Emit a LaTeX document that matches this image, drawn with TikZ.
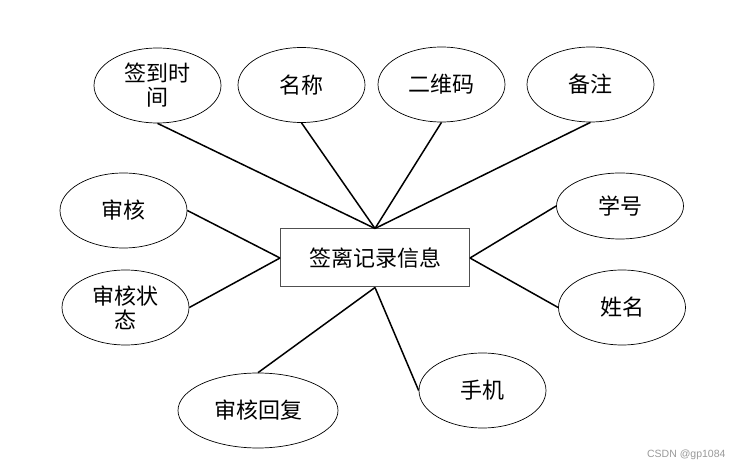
\documentclass[tikz,border=0pt]{standalone}
\usepackage{fontspec}
\newfontfamily\cjk{Noto Sans CJK SC}
\newfontfamily\wmfont{Liberation Sans}
\usepackage{tikz}
\usetikzlibrary{shapes.geometric}
\definecolor{ink}{HTML}{000000}
\definecolor{frame}{HTML}{505050}
\definecolor{muted}{HTML}{9A9A9A}

\begin{document}
\begin{tikzpicture}[x=1pt, y=-1pt,
  font=\cjk\fontsize{22}{24}\selectfont,
  attr/.style={ellipse, draw=ink, line width=0.7pt, inner sep=0pt,
    minimum width=127pt, minimum height=75pt, align=center},
  entity/.style={draw=frame, line width=1pt, inner sep=0pt,
    minimum width=189pt, minimum height=58pt},
  link/.style={draw=ink, line width=1.5pt},
]
  \useasboundingbox[fill=white] (0,0) rectangle (734,470);
  % entity
  \node[entity] (rec) at (375,258) {签离记录信息};
  % attributes
  \node[attr] (time) at (157.5,85.5) {签到时\\间};
  \node[attr] (title) at (301.5,85) {名称};
  \node[attr] (qr) at (441.5,84.5) {二维码};
  \node[attr] (note) at (590.5,84.5) {备注};
  \node[attr] (audit) at (123.5,210.5) {审核};
  \node[attr] (state) at (125.5,307.5) {审核状\\态};
  \node[attr, minimum height=66pt] (sid) at (620,206) {学号};
  \node[attr] (sname) at (622,307.5) {姓名};
  \node[attr, minimum width=160pt] (reply) at (258,410.5) {审核回复};
  \node[attr] (phone) at (482.5,390.5) {手机};
  \draw[link] (rec.north) -- (time.south);
  \draw[link] (rec.north) -- (title.south);
  \draw[link] (rec.north) -- (qr.south);
  \draw[link] (rec.north) -- (note.south);
  \draw[link] (rec.west) -- (audit.east);
  \draw[link] (rec.west) -- (state.east);
  \draw[link] (rec.east) -- (sid.west);
  \draw[link] (rec.east) -- (sname.west);
  \draw[link] (rec.south) -- (reply.north);
  \draw[link] (rec.south) -- (phone.west);
  % watermark
  \node[font=\wmfont\fontsize{10.5}{12}\selectfont, text=muted, anchor=east]
    (wm) at (729,455) {CSDN @gp1084};
\end{tikzpicture}
\end{document}
